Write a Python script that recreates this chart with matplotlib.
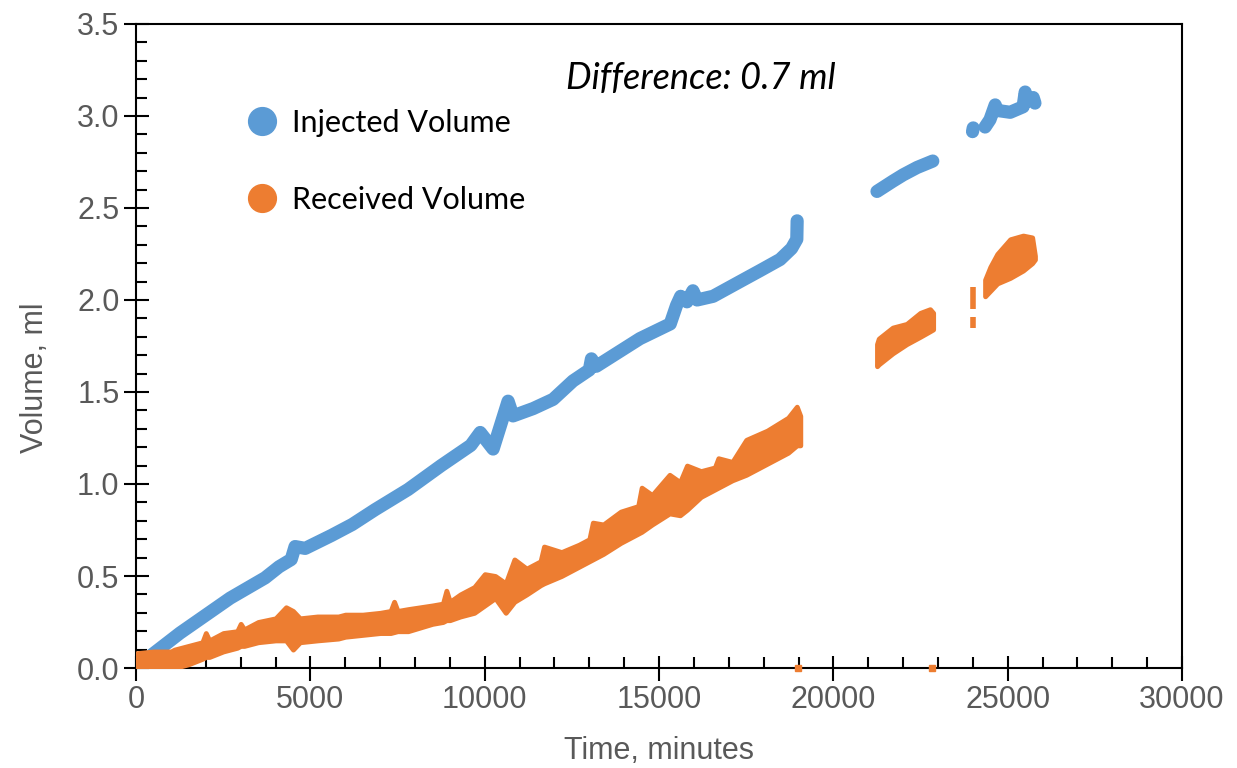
import matplotlib
matplotlib.use("Agg")
import matplotlib.pyplot as plt
from matplotlib.lines import Line2D
from matplotlib.ticker import MultipleLocator

BLUE = "#5B9BD5"
ORANGE = "#ED7D31"
GRAY = "#595959"

# injected volume, main run (time in minutes, volume in ml)
inj_t1 = [100, 1260, 2700, 3700, 4100, 4450, 4560, 4850, 5600, 6200, 6850, 7800,
          8750, 9600, 9870, 10240, 10670, 10810, 11390, 11960, 12530, 13000, 13060,
          13200, 14450, 15320, 15500, 15620, 15800, 15970, 16090, 16550, 17320,
          17900, 18470, 18800, 18950, 18960]
inj_v1 = [0.02, 0.19, 0.38, 0.49, 0.55, 0.59, 0.66, 0.65, 0.72, 0.78, 0.86, 0.97,
          1.10, 1.21, 1.28, 1.19, 1.45, 1.37, 1.41, 1.46, 1.56, 1.62, 1.68,
          1.64, 1.79, 1.87, 1.97, 2.02, 1.99, 2.05, 2.00, 2.02, 2.10,
          2.16, 2.22, 2.28, 2.33, 2.43]
inj_t2 = [21250, 21700, 22000, 22400, 22850]
inj_v2 = [2.59, 2.645, 2.68, 2.72, 2.755]
inj_t3 = [23990, 24010]
inj_v3 = [2.915, 2.935]
inj_t4 = [24350, 24490, 24640, 24700, 25070, 25440, 25500, 25560, 25730, 25780]
inj_v4 = [2.94, 2.98, 3.06, 3.03, 3.02, 3.05, 3.13, 3.08, 3.10, 3.07]

# received volume, low / high envelope of the noisy readings
rec_t1 = [0, 500, 1000, 1100, 1500, 1900, 2000, 2100, 2500, 2900, 3000, 3100, 3500,
          4000, 4300, 4500, 4700, 5200, 5800, 6000, 6500, 7000, 7300, 7400, 7500,
          7800, 8500, 8800, 8900, 9000, 9300, 9700, 10000, 10300, 10600, 10850,
          11200, 11600, 11700, 12200, 12700, 13000, 13100, 13400, 13900, 14400,
          14500, 14800, 15300, 15600, 15800, 16200, 16600, 16700, 17100, 17500,
          18100, 18700, 18950, 19050]
rec_lo1 = [0.0, 0.0, 0.0, 0.0, 0.02, 0.05, 0.06, 0.06, 0.09, 0.11, 0.12, 0.12, 0.14,
           0.15, 0.15, 0.10, 0.14, 0.15, 0.16, 0.17, 0.18, 0.19, 0.19, 0.195, 0.20,
           0.20, 0.24, 0.25, 0.26, 0.26, 0.28, 0.30, 0.34, 0.38, 0.30, 0.36,
           0.40, 0.45, 0.46, 0.50, 0.55, 0.58, 0.59, 0.62, 0.68, 0.73,
           0.74, 0.78, 0.84, 0.83, 0.86, 0.93, 0.97, 0.98, 1.02, 1.05,
           1.11, 1.17, 1.21, 1.21]
rec_hi1 = [0.08, 0.09, 0.09, 0.10, 0.12, 0.14, 0.19, 0.15, 0.19, 0.20, 0.24, 0.21, 0.25,
           0.27, 0.33, 0.31, 0.27, 0.28, 0.28, 0.29, 0.29, 0.30, 0.31, 0.36, 0.31,
           0.32, 0.34, 0.35, 0.42, 0.36, 0.40, 0.44, 0.51, 0.50, 0.46, 0.59,
           0.54, 0.58, 0.66, 0.63, 0.67, 0.70, 0.79, 0.78, 0.85, 0.88,
           0.98, 0.94, 1.05, 1.01, 1.10, 1.07, 1.09, 1.14, 1.12, 1.24,
           1.29, 1.36, 1.42, 1.37]
rec_t2 = [21250, 21300, 21700, 22100, 22490, 22770, 22860]
rec_lo2 = [1.64, 1.65, 1.71, 1.76, 1.80, 1.83, 1.84]
rec_hi2 = [1.76, 1.79, 1.85, 1.87, 1.93, 1.95, 1.93]
rec_bits_t = [24000, 24000]
rec_bits_lo = [1.95, 1.85]
rec_bits_hi = [2.07, 1.91]
rec_t3 = [24350, 24500, 24700, 25070, 25440, 25700, 25780]
rec_lo3 = [2.02, 2.05, 2.09, 2.12, 2.16, 2.20, 2.22]
rec_hi3 = [2.11, 2.18, 2.25, 2.33, 2.35, 2.34, 2.24]
rec_zero_t = [18990, 22830]
rec_zero_v = [0.0, 0.0]

fig = plt.figure(figsize=(12.37, 7.68), dpi=100)
ax = fig.add_axes([0.110, 0.1302, 0.8456, 0.8386])

# injected series as a thick line
for t, v in [(inj_t1, inj_v1), (inj_t2, inj_v2), (inj_t3, inj_v3), (inj_t4, inj_v4)]:
    ax.plot(t, v, color=BLUE, lw=9.5, solid_joinstyle="round",
            solid_capstyle="round", zorder=2)

# received series as a filled band
for t, lo, hi in [(rec_t1, rec_lo1, rec_hi1), (rec_t2, rec_lo2, rec_hi2),
                  (rec_t3, rec_lo3, rec_hi3)]:
    ax.fill_between(t, lo, hi, color=ORANGE, lw=3.5, edgecolor=ORANGE,
                    joinstyle="round", zorder=3)
ax.vlines(rec_bits_t, rec_bits_lo, rec_bits_hi, color=ORANGE, lw=4, zorder=3)
ax.plot(rec_zero_t, rec_zero_v, ls="none", marker="s", ms=4, color=ORANGE,
        zorder=4, clip_on=False)

ax.set_xlim(0, 30000)
ax.set_ylim(0, 3.5)
ax.xaxis.set_major_locator(MultipleLocator(5000))
ax.xaxis.set_minor_locator(MultipleLocator(1000))
ax.yaxis.set_major_locator(MultipleLocator(0.5))
ax.yaxis.set_minor_locator(MultipleLocator(0.1))
ax.yaxis.set_major_formatter(plt.FormatStrFormatter("%.1f"))

for s in ax.spines.values():
    s.set_linewidth(1.5)
    s.set_color("black")
ax.tick_params(which="major", direction="inout", length=18, width=1.5,
               labelsize=22, labelcolor=GRAY, pad=3)
ax.tick_params(which="minor", direction="in", length=8, width=1.5)
for lab in ax.get_xticklabels() + ax.get_yticklabels():
    lab.set_family("Liberation Sans")

ax.set_xlabel("Time, minutes", fontsize=22, color=GRAY, family="Liberation Sans",
              labelpad=15)
ax.set_ylabel("Volume, ml", fontsize=22, color=GRAY, family="Liberation Sans")
ax.yaxis.set_label_coords(-0.082, 0.45)

ax.text(0.54, 0.915, "Difference: 0.7 ml", transform=ax.transAxes, ha="center",
        va="center", fontsize=26, style="italic", family="Lato", color="black")

handles = [
    Line2D([], [], ls="none", marker="o", ms=20, color=BLUE),
    Line2D([], [], ls="none", marker="o", ms=20, color=ORANGE),
]
ax.legend(handles, ["Injected Volume", "Received Volume"], loc="upper left",
          bbox_to_anchor=(0.094, 0.887), frameon=False,
          prop={"family": "Lato", "size": 22}, labelspacing=1.6,
          handletextpad=0.5, handlelength=1.0, borderaxespad=0)

fig.savefig("out.png", dpi=100)
